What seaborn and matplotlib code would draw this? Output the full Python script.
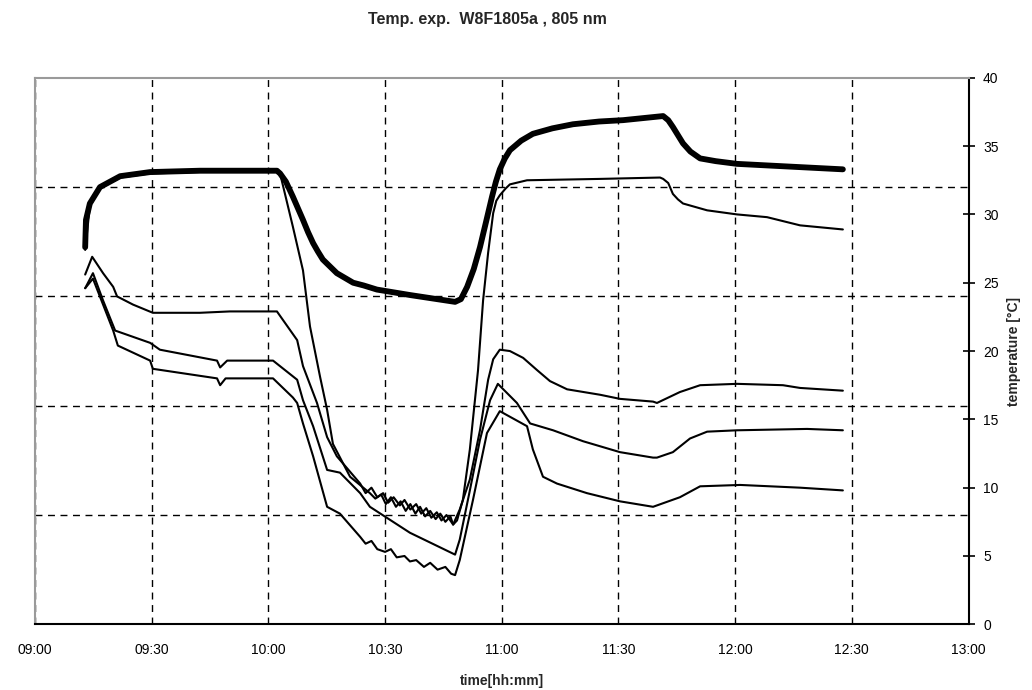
import numpy as np
import pandas as pd
import matplotlib
matplotlib.use("Agg")
import matplotlib.pyplot as plt
import seaborn as sns

# ---- data (time in minutes after 09:00, temperature in °C) ----
title = "Temp. exp.  W8F1805a , 805 nm"
x_label = "time[hh:mm]"
y_label = "temperature [°C]"
x_tick_pos = [0, 30, 60, 90, 120, 150, 180, 210, 240]
x_tick_labels = ["09:00", "09:30", "10:00", "10:30", "11:00", "11:30", "12:00", "12:30", "13:00"]
y_ticks = [0, 5, 10, 15, 20, 25, 30, 35, 40]
y_grid = [8, 16, 24, 32]

tA = [12.9, 13.1, 14.1, 16.7, 21.9, 29.6, 42.4, 50.0, 62.2, 63.0, 64.5, 66.3, 68.9, 70.2, 71.5, 72.7,
      74.0, 77.6, 81.8, 84.5, 87.9, 96.4, 108.0, 109.5, 111.1, 112.8, 114.4, 116.0, 117.5, 118.5,
      119.5, 120.8, 122.1, 125.0, 128.0, 133.0, 138.3, 145.0, 151.2, 161.5, 162.8, 164.0, 165.3,
      166.6, 168.5, 171.0, 175.0, 180.5, 194.1, 207.7]
vA = [27.6, 29.6, 30.8, 32.0, 32.8, 33.1, 33.2, 33.2, 33.2, 33.0, 32.4, 31.3, 29.6, 28.7, 27.9, 27.3,
      26.7, 25.7, 25.0, 24.8, 24.5, 24.1, 23.6, 23.8, 24.7, 26.0, 27.6, 29.5, 31.3, 32.4,
      33.3, 34.1, 34.7, 35.4, 35.9, 36.3, 36.6, 36.8, 36.9, 37.2, 36.9, 36.4, 35.8,
      35.2, 34.6, 34.1, 33.9, 33.7, 33.5, 33.3]

tB = [12.9, 14.1, 16.7, 21.9, 29.6, 42.4, 62.2, 63.0, 66.3, 68.9, 70.7, 73.3, 75.1, 76.6, 81.0, 86.1,
      87.5, 89.0, 90.2, 91.5, 92.8, 94.0, 95.3, 96.5, 97.8, 99.0, 100.3, 101.6, 103.0, 104.2, 105.5,
      106.8, 107.5, 108.5, 110.0, 111.8, 113.9, 115.2, 116.5, 117.8, 118.6, 119.5, 121.0, 122.1,
      126.5, 145.3, 160.7, 161.5, 162.8, 164.0, 165.3, 166.6, 172.8, 180.5, 188.2, 196.7, 207.7]
vB = [27.4, 30.6, 31.9, 32.7, 33.0, 33.1, 33.1, 33.0, 29.1, 25.9, 21.8, 18.1, 15.7, 13.2, 10.8, 9.6,
      9.2, 9.5, 8.8, 9.3, 8.6, 9.0, 8.3, 8.8, 8.1, 8.6, 7.9, 8.3, 7.7, 8.1, 7.5,
      7.9, 7.3, 7.6, 9.1, 12.8, 18.6, 23.7, 27.2, 30.1, 31.0, 31.4, 31.9, 32.2,
      32.5, 32.6, 32.7, 32.6, 32.3, 31.5, 31.1, 30.8, 30.3, 30.0, 29.8, 29.2, 28.9]

tC = [12.9, 14.7, 17.5, 20.1, 21.1, 25.2, 30.3, 42.4, 50.1, 62.2, 67.4, 68.9, 72.5, 75.1, 77.6, 83.6,
      85.0, 86.5, 88.0, 89.5, 90.8, 92.2, 93.8, 95.0, 96.5, 98.0, 99.3, 100.6, 101.9, 103.3, 104.5,
      105.8, 107.5, 109.2, 111.8, 114.4, 116.5, 117.8, 119.5,
      122.1, 125.5, 129.1, 132.4, 136.8, 145.3, 150.4, 158.9, 159.9, 165.8, 171.0, 180.5, 192.3, 196.7, 207.7]
vC = [25.6, 26.9, 25.7, 24.7, 24.0, 23.4, 22.8, 22.8, 22.9, 22.9, 20.8, 18.9, 16.2, 13.7, 12.3, 10.3,
      9.6, 10.0, 9.3, 9.6, 8.9, 9.3, 8.7, 9.1, 8.4, 8.8, 8.1, 8.5, 7.8, 8.2, 7.6,
      8.0, 7.3, 8.4, 10.6, 14.2, 17.9, 19.4, 20.1,
      20.0, 19.5, 18.6, 17.8, 17.2, 16.8, 16.5, 16.3, 16.2, 17.0, 17.5, 17.6, 17.5, 17.3, 17.1]

tD = [12.9, 14.9, 17.5, 20.6, 29.6, 32.1, 46.8, 47.6, 49.4, 61.2, 67.4, 68.9, 71.5, 75.1, 78.4, 83.6,
      86.1, 96.4, 108.0, 109.2, 111.8, 114.4, 117.0, 119.0, 123.9, 127.3, 133.2, 140.9, 150.4, 158.9,
      159.9, 164.0, 168.4, 172.8, 180.5, 198.5, 207.7]
vD = [24.6, 25.7, 23.7, 21.5, 20.6, 20.1, 19.3, 18.8, 19.3, 19.3, 17.9, 16.4, 14.5, 11.3, 11.1, 9.6,
      8.6, 6.7, 5.1, 6.2, 9.8, 13.5, 16.4, 17.6, 16.2, 14.7, 14.2, 13.4, 12.6, 12.2,
      12.2, 12.6, 13.6, 14.1, 14.2, 14.3, 14.2]

tE = [12.9, 14.9, 20.1, 21.3, 29.6, 30.3, 46.8, 47.6, 49.0, 61.2, 66.3, 67.4, 68.9, 71.5, 75.1, 78.4,
      83.6, 85.0, 86.5, 88.0, 90.0, 91.5, 93.0, 95.0, 96.4, 98.0, 100.0, 101.6, 103.5, 105.5, 107.0,
      108.0, 109.2, 112.6, 116.2, 119.5, 126.5, 128.0, 130.6, 134.2,
      141.9, 150.4, 158.9, 165.8, 171.0, 181.3, 196.7, 207.7]
vE = [24.6, 25.3, 21.5, 20.4, 19.3, 18.7, 18.0, 17.5, 18.0, 18.0, 16.6, 16.2, 14.7, 12.3, 8.6, 8.1,
      6.4, 5.9, 6.1, 5.5, 5.3, 5.5, 4.9, 5.0, 4.6, 4.7, 4.2, 4.5, 4.0, 4.2, 3.7,
      3.6, 4.7, 9.1, 14.0, 15.6, 14.5, 12.8, 10.8, 10.3,
      9.6, 9.0, 8.6, 9.3, 10.1, 10.2, 10.0, 9.8]

series = [("A", tA, vA, 4.2), ("B", tB, vB, 1.5), ("C", tC, vC, 1.5), ("D", tD, vD, 1.5), ("E", tE, vE, 1.5)]

# ---- plot ----
sns.set_style("white")
plt.rcParams["font.family"] = ["Liberation Sans", "DejaVu Sans"]

fig = plt.figure(figsize=(10.32, 6.90), dpi=100)
ax = fig.add_axes([35 / 1032, 1 - 624.3 / 690, (968.5 - 35) / 1032, (624.3 - 77.8) / 690])

for name, t, v, lw in series:
    df = pd.DataFrame({"t": t, "T": v})
    sns.lineplot(data=df, x="t", y="T", ax=ax, color="black", linewidth=lw,
                 estimator=None, sort=False, solid_joinstyle="round", solid_capstyle="round")

ax.set_xlim(0, 240)
ax.set_ylim(0, 40)
ax.set_xticks(x_tick_pos)
ax.set_xticklabels(x_tick_labels, fontsize=10)
ax.set_yticks(y_ticks)
ax.set_yticklabels([str(v) for v in y_ticks], fontsize=10)
ax.set_yticks(y_grid, minor=True)

ax.yaxis.tick_right()
ax.yaxis.set_label_position("right")
ax.tick_params(axis="y", which="major", direction="inout", length=9, width=1.2, pad=6, colors="black")
ax.tick_params(axis="y", which="minor", length=0)
ax.tick_params(axis="x", which="major", direction="inout", length=9, width=1.2, pad=9, colors="black")

ax.grid(False)
ax.xaxis.grid(True, which="major", linestyle=(0, (5, 4)), color="black", linewidth=1)
ax.yaxis.grid(True, which="minor", linestyle=(0, (5, 4)), color="black", linewidth=1)
ax.set_axisbelow(True)

for s in ["top", "left"]:
    ax.spines[s].set_color("#9a9a9a")
    ax.spines[s].set_linewidth(1.5)
for s in ["right", "bottom"]:
    ax.spines[s].set_color("black")
    ax.spines[s].set_linewidth(1.5)

ax.set_xlabel(x_label, fontsize=10, fontweight="bold", labelpad=12)
ax.set_ylabel(y_label, fontsize=10, fontweight="bold", labelpad=6)
fig.text(0.472, 0.982, title, ha="center", va="top", fontsize=11.5, fontweight="bold")

fig.savefig("out.png", dpi=100)
